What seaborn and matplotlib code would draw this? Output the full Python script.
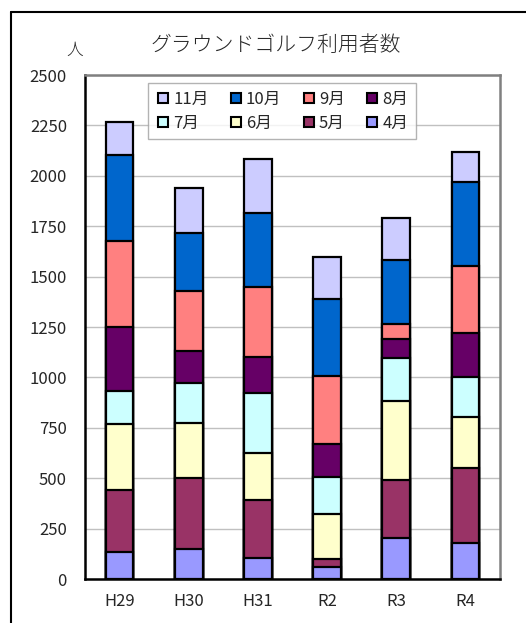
import numpy as np
import pandas as pd
import seaborn as sns
import matplotlib.pyplot as plt
from matplotlib.lines import Line2D

years = ['H29', 'H30', 'H31', 'R2', 'R3', 'R4']
months = ['4月', '5月', '6月', '7月', '8月', '9月', '10月', '11月']

apr = [135, 147, 103, 61, 205, 180]
may = [306, 353, 289, 37, 286, 369]
jun = [326, 272, 231, 224, 392, 253]
jul = [166, 202, 301, 182, 212, 198]
aug = [318, 157, 179, 166, 95, 222]
sep = [426, 298, 344, 337, 73, 331]
octo = [426, 286, 367, 382, 319, 415]
nov = [165, 223, 269, 210, 207, 152]

colors = ['#9999FF', '#993366', '#FFFFCC', '#CCFFFF',
          '#660066', '#FF8080', '#0066CC', '#CCCCFF']

df = pd.DataFrame({'year': years})
for m, v in zip(months, [apr, may, jun, jul, aug, sep, octo, nov]):
    df[m] = v
cum = df[months].cumsum(axis=1)

sns.set_style('white')
plt.rcParams['font.family'] = ['Noto Sans CJK JP', 'DejaVu Sans']

fig = plt.figure(figsize=(5.26, 6.23), dpi=100)
ax = fig.add_axes([0.1616, 0.0706, 0.789, 0.809])

# stack by overdrawing cumulative totals, top month first
for i in range(len(months) - 1, -1, -1):
    sns.barplot(x=df['year'], y=cum[months[i]], color=colors[i], width=0.4,
                edgecolor='black', linewidth=1.6, saturation=1, ax=ax, zorder=3)

ax.set_ylim(0, 2500)
ax.set_xlim(-0.5, 5.5)
ax.set_yticks(np.arange(0, 2501, 250))
ax.yaxis.grid(True, color='#c0c0c0', linewidth=1, zorder=0)
ax.set_axisbelow(True)
ax.set_xlabel('')
ax.set_ylabel('')

ax.tick_params(axis='y', length=5, width=1, color='black', pad=8, labelsize=12)
ax.tick_params(axis='x', length=0, pad=10, labelsize=12)
ax.set_xticks(np.arange(-0.5, 6, 1), minor=True)
ax.tick_params(axis='x', which='minor', direction='in', length=4, width=1, color='black')

for s in ['left', 'bottom']:
    ax.spines[s].set_color('black')
    ax.spines[s].set_linewidth(1.8)
for s in ['top', 'right']:
    ax.spines[s].set_color('#808080')
    ax.spines[s].set_linewidth(1.8)

order = [7, 3, 6, 2, 5, 1, 4, 0]
handles = [Line2D([], [], marker='s', linestyle='none', markersize=7,
                  markerfacecolor=colors[i], markeredgecolor='black',
                  markeredgewidth=1.5) for i in order]
labels = [months[i] for i in order]
leg = fig.legend(handles, labels, ncol=4, loc='upper left',
                 bbox_to_anchor=(0.2814, 0.8668),
                 bbox_transform=fig.transFigure,
                 fontsize=12, frameon=True, fancybox=False,
                 edgecolor='#a0a0a0', handletextpad=0.15, handlelength=0.9,
                 borderaxespad=0, labelspacing=0.45, columnspacing=1.2,
                 borderpad=0.45)
leg.get_frame().set_linewidth(1)

fig.text(0.525, 0.928, 'グラウンドゴルフ利用者数', ha='center', va='center',
         fontsize=15, fontweight='light')
fig.text(0.1426, 0.9197, '人', ha='center', va='center', fontsize=12,
         fontweight='light')

fig.add_artist(Line2D([0.0209, 0.0209], [0, 0.9807], color='black', linewidth=1.5,
                      transform=fig.transFigure))
fig.add_artist(Line2D([0.0209, 1], [0.9807, 0.9807], color='black', linewidth=1.5,
                      transform=fig.transFigure))

fig.savefig('out.png', dpi=100)
